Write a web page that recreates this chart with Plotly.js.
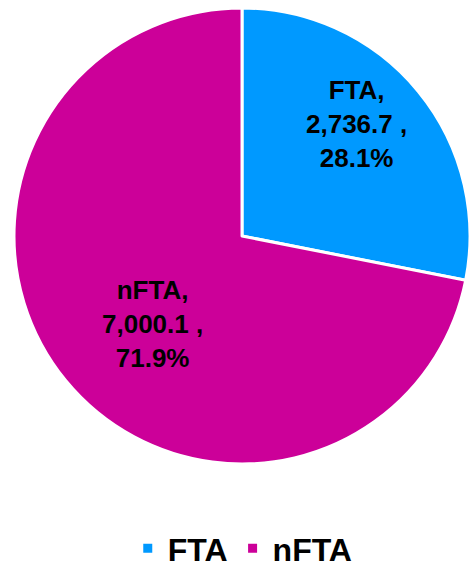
<!DOCTYPE html>
<html>
<head>
<meta charset="utf-8">
<script src="https://cdn.plot.ly/plotly-3.0.1.min.js"></script>
<style>html,body{margin:0;padding:0;background:#fff;}#chart{width:476px;height:569px;}</style>
</head>
<body>
<div id="chart"></div>
<script>
const labels = ["FTA", "nFTA"];
const values = [2736.7, 7000.1];
const colors = ["#0099FF", "#CC0099"];

const W = 476, H = 569;
const pieDomain = { x: [14/W, 470/W], y: [105/H, 561/H] };
const labelFont = { family: "Liberation Sans, Arial, sans-serif", size: 26, color: "#000000", weight: "bold" };
const labelRadiusFrac = [0.70, 0.55];
const labelAngleShift = -5;

const trace = {
  type: "pie",
  labels: labels,
  values: values,
  sort: false,
  direction: "clockwise",
  rotation: 0,
  marker: { colors: colors, line: { color: "#FFFFFF", width: 3 } },
  textinfo: "none",
  hoverinfo: "none",
  domain: pieDomain
};

// label annotations derived from the data (slice mid-angles)
const total = values.reduce((a, b) => a + b, 0);
const cxP = (pieDomain.x[0] + pieDomain.x[1]) / 2;
const cyP = (pieDomain.y[0] + pieDomain.y[1]) / 2;
const Rpx = Math.min((pieDomain.x[1] - pieDomain.x[0]) * W, (pieDomain.y[1] - pieDomain.y[0]) * H) / 2;
let cum = 0;
const annotations = values.map((v, i) => {
  const midDeg = (cum + v / 2) / total * 360 + labelAngleShift;
  cum += v;
  const a = midDeg * Math.PI / 180;
  const r = labelRadiusFrac[i] * Rpx;
  const valTxt = v.toLocaleString("en-US", { minimumFractionDigits: 1, maximumFractionDigits: 1 });
  const pctTxt = (v / total * 100).toFixed(1) + "%";
  return {
    xref: "paper", yref: "paper",
    x: cxP + r * Math.sin(a) / W,
    y: cyP + r * Math.cos(a) / H,
    xanchor: "center", yanchor: "middle",
    showarrow: false,
    align: "center",
    text: labels[i] + ",<br>" + valTxt + " ,<br>" + pctTxt,
    font: labelFont
  };
});

const layout = {
  width: W,
  height: H,
  margin: { l: 0, r: 0, t: 0, b: 0, autoexpand: false },
  paper_bgcolor: "#FFFFFF",
  showlegend: true,
  annotations: annotations,
  legend: {
    orientation: "h",
    x: 0.51, xanchor: "center",
    y: -0.012, yanchor: "bottom",
    font: { family: "Liberation Sans, Arial, sans-serif", size: 32, color: "#000000", weight: "bold" },
    itemwidth: 30
  }
};

Plotly.newPlot("chart", [trace], layout, { displayModeBar: false, staticPlot: true });
</script>
</body>
</html>
